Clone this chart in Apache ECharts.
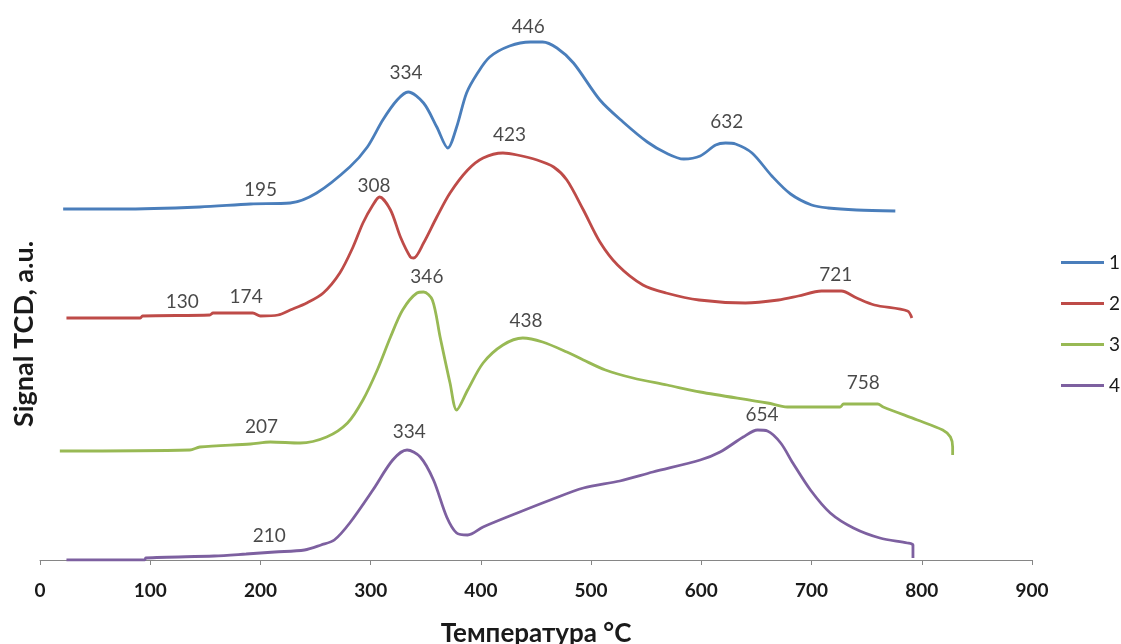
<!DOCTYPE html>
<html>
<head>
<meta charset="utf-8">
<script src="https://cdn.jsdelivr.net/npm/echarts@6/dist/echarts.min.js"></script>
<style>
html,body{margin:0;padding:0;background:#fff;}
#chart{width:1121px;height:644px;}
</style>
</head>
<body>
<div id="chart"></div>
<script>
// Temperature (°C) / TCD signal (a.u.) pairs
const seriesNames = ['1', '2', '3', '4'];
const curve1 = [[21,351],[73,351],[145,353],[191,356],[227,357],[251,367],[281,393],[297,413],[311,440],[324,460],[334,468],[348,457],[360,433],[370,412],[378,433],[387,467],[397,487],[408,503],[426,514],[445,518],[456,518],[469,512],[484,497],[508,460],[529,438],[551,418],[568,407],[584,401],[599,404],[613,415],[622,417],[631,416],[646,407],[664,384],[681,366],[700,355],[715,352],[741,350],[776,349]];
const curve2 = [[24,242],[91,242],[93,244],[154,245],[157,247],[193,247],[200,244],[216,245],[227,250],[242,257],[257,267],[272,287],[284,313],[293,337],[302,355],[308,363],[318,350],[327,323],[336,303],[339,302],[348,317],[360,343],[372,367],[388,390],[402,402],[420,407],[433,405],[451,400],[466,393],[478,380],[493,350],[508,318],[524,295],[547,275],[568,267],[598,260],[640,257],[670,260],[688,264],[709,269],[727,269],[741,262],[757,255],[787,249],[791,242]];
const curve3 = [[18,109],[136,110],[145,113],[191,116],[209,118],[236,117],[260,123],[279,137],[293,160],[306,190],[318,223],[329,250],[342,267],[348,268],[356,260],[363,223],[372,177],[378,150],[388,170],[402,197],[420,215],[438,222],[456,218],[478,208],[493,200],[513,190],[538,182],[569,175],[599,168],[660,157],[678,153],[726,153],[729,156],[760,156],[765,153],[796,140],[819,130],[826,123],[828,113],[828,105]];
const curve4 = [[24,0],[95,0],[96,2],[158,4],[187,6],[213,8],[240,10],[255,15],[267,20],[281,37],[302,70],[320,100],[333,110],[345,103],[357,80],[369,43],[378,27],[388,25],[402,33],[433,47],[463,60],[493,72],[526,79],[556,88],[599,100],[617,108],[638,123],[651,130],[660,129],[672,117],[683,97],[699,70],[717,47],[738,32],[762,22],[787,17],[792,15],[792,2]];
// Peak annotations: [temperature position, signal position, text]
const peaks1 = [[200,370,'195'],[332,487,'334'],[443,533,'446'],[623,438,'632']];
const peaks2 = [[129,258,'130'],[187,263,'174'],[303,374,'308'],[426,425,'423'],[722,285,'721']];
const peaks3 = [[201,133,'207'],[351,283,'346'],[441,239,'438'],[747,177,'758']];
const peaks4 = [[208,24,'210'],[335,128,'334'],[655,145,'654']];
const xTicks = {min: 0, max: 900, interval: 100};
const colors = ['#4a7ebb', '#be4b48', '#98b954', '#7d60a0'];

const curves = [curve1, curve2, curve3, curve4];
const peaks = [].concat(peaks1, peaks2, peaks3, peaks4);
const FONT = 'Lato, "Open Sans", sans-serif';

const chart = echarts.init(document.getElementById('chart'), null, {renderer: 'canvas'});
const series = curves.map((d, i) => ({
  name: seriesNames[i],
  type: 'line',
  data: d,
  smooth: 0.3,
  symbol: 'none',
  showSymbol: false,
  lineStyle: {width: 2.8, color: colors[i]},
  itemStyle: {color: colors[i]},
  z: 2
}));
series.push({
  name: 'labels',
  type: 'scatter',
  data: peaks,
  symbolSize: 0,
  silent: true,
  label: {
    show: true,
    position: 'inside',
    formatter: p => p.value[2],
    color: '#1a1a1a',
    fontSize: 19,
    fontFamily: FONT
  },
  z: 5
});

chart.setOption({
  animation: false,
  backgroundColor: '#ffffff',
  grid: {left: 40, right: 89, top: 20, bottom: 84, containLabel: false, outerBoundsMode: 'none'},
  legend: {
    data: seriesNames,
    orient: 'vertical',
    left: 1061,
    top: 252,
    padding: 0,
    icon: 'rect',
    itemWidth: 43,
    itemHeight: 3,
    itemGap: 20,
    selectedMode: false,
    textStyle: {fontSize: 19, color: '#1a1a1a', fontFamily: FONT, lineHeight: 21}
  },
  graphic: [{
    type: 'text',
    x: 24,
    y: 334,
    rotation: Math.PI / 2,
    style: {
      text: 'Signal TCD, a.u.',
      fontSize: 27,
      fontWeight: 'bold',
      fill: '#1a1a1a',
      fontFamily: FONT,
      align: 'center',
      verticalAlign: 'middle'
    }
  }],
  xAxis: {
    type: 'value',
    min: xTicks.min,
    max: xTicks.max,
    interval: xTicks.interval,
    name: 'Температура °C',
    nameLocation: 'middle',
    nameGap: 61,
    nameTextStyle: {fontSize: 26, fontWeight: 'bold', color: '#1a1a1a', fontFamily: FONT},
    axisLine: {show: true, lineStyle: {color: '#868686', width: 1}},
    axisTick: {show: true, length: 5, lineStyle: {color: '#868686'}},
    axisLabel: {fontSize: 19, fontWeight: 'bold', color: '#1a1a1a', margin: 21, fontFamily: FONT},
    splitLine: {show: false}
  },
  yAxis: {
    type: 'value',
    min: 0,
    max: 540,
    axisLine: {show: false},
    axisTick: {show: false},
    axisLabel: {show: false},
    splitLine: {show: false}
  },
  series: series
});
</script>
</body>
</html>
